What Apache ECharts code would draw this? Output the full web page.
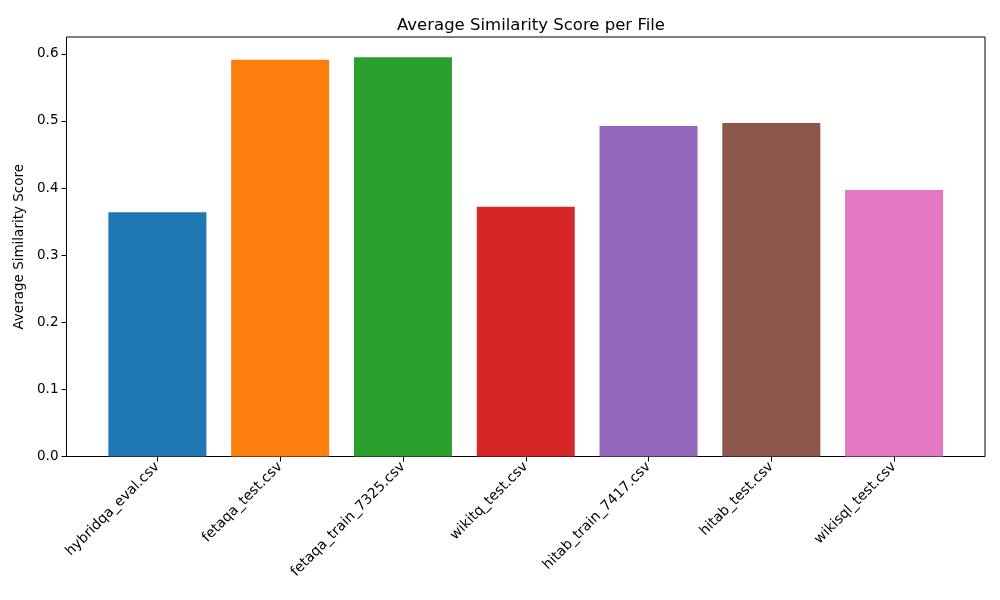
<!DOCTYPE html>
<html>
<head>
<meta charset="utf-8">
<script src="https://cdn.jsdelivr.net/npm/echarts@6/dist/echarts.min.js"></script>
<style>
  html, body { margin: 0; padding: 0; background: #fff; }
  #main { width: 1000px; height: 600px; }
</style>
</head>
<body>
<div id="main"></div>
<script>
// average similarity per csv file
var files = [
  "hybridqa_eval.csv",
  "fetaqa_test.csv",
  "fetaqa_train_7325.csv",
  "wikitq_test.csv",
  "hitab_train_7417.csv",
  "hitab_test.csv",
  "wikisql_test.csv"
];
var scores = [0.364, 0.591, 0.595, 0.372, 0.4925, 0.497, 0.397];
var colors = ["#1f77b4", "#ff7f0e", "#2ca02c", "#d62728", "#9467bd", "#8c564b", "#e377c2"];
var yTicks = [0.0, 0.1, 0.2, 0.3, 0.4, 0.5, 0.6];

var yMax = 0.625;
var font = "DejaVu Sans";

var chartDom = document.getElementById("main");
var myChart = echarts.init(chartDom);
var option;

option = {
  animation: false,
  backgroundColor: "#fff",
  title: {
    text: "Average Similarity Score per File",
    left: 526,
    top: 12,
    textAlign: "center",
    textStyle: { fontFamily: font, fontSize: 16.5, fontWeight: "normal", color: "#000" }
  },
  grid: [
    // bars (inset so band width matches matplotlib margins)
    { left: 96, right: 44.5, top: 37, bottom: 143.5 },
    // frame + y axis
    { left: 66.5, right: 15, top: 37, bottom: 143.5, show: true, borderColor: "#000", borderWidth: 1, backgroundColor: "transparent" }
  ],
  xAxis: [
    {
      type: "category",
      gridIndex: 0,
      data: files,
      axisLine: { show: false },
      axisTick: { show: true, alignWithLabel: true, length: 5, lineStyle: { color: "#000" } },
      axisLabel: {
        rotate: 45,
        interval: 0,
        margin: 8,
        fontFamily: font,
        fontSize: 14,
        color: "#000"
      }
    },
    {
      type: "value",
      gridIndex: 1,
      show: false
    }
  ],
  yAxis: [
    {
      type: "value",
      gridIndex: 0,
      min: 0,
      max: yMax,
      show: false
    },
    {
      type: "value",
      gridIndex: 1,
      min: 0,
      max: yMax,
      interval: 0.1,
      name: "Average Similarity Score",
      nameLocation: "middle",
      nameGap: 38,
      nameTextStyle: { fontFamily: font, fontSize: 13.5, color: "#000" },
      axisLine: { show: false },
      axisTick: { show: true, length: 5, lineStyle: { color: "#000" } },
      splitLine: { show: false },
      axisLabel: {
        fontFamily: font,
        fontSize: 13.5,
        color: "#000",
        margin: 8,
        showMaxLabel: false,
        formatter: function (v) {
          return yTicks.indexOf(Math.round(v * 10) / 10) >= 0 ? v.toFixed(1) : "";
        }
      }
    }
  ],
  series: [
    {
      type: "bar",
      xAxisIndex: 0,
      yAxisIndex: 0,
      barWidth: 98,
      data: scores.map(function (v, i) {
        return { value: v, itemStyle: { color: colors[i] } };
      })
    }
  ]
};

option && myChart.setOption(option);
</script>
</body>
</html>
